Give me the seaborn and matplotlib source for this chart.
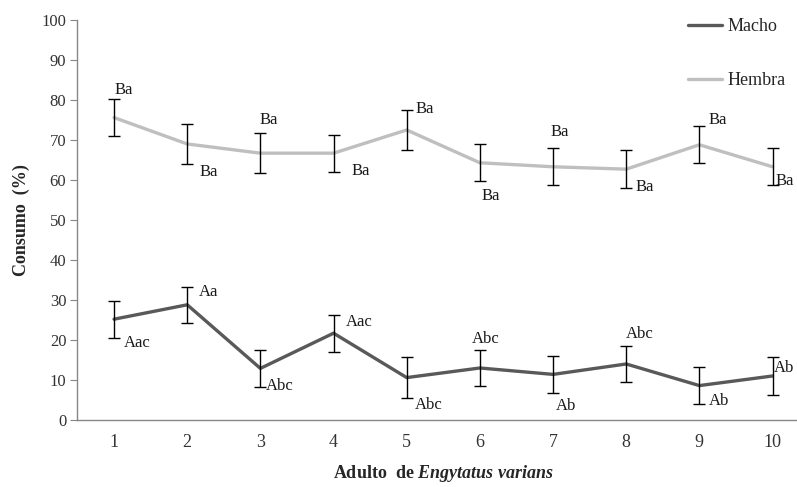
import pandas as pd
import numpy as np
import matplotlib
matplotlib.use("Agg")
import matplotlib.pyplot as plt
import seaborn as sns
from matplotlib.lines import Line2D

# --- data ---
adults = [1, 2, 3, 4, 5, 6, 7, 8, 9, 10]
macho = [25.2, 28.8, 12.9, 21.7, 10.6, 13.0, 11.4, 14.0, 8.6, 11.0]
macho_err = [4.6, 4.5, 4.6, 4.6, 5.1, 4.5, 4.6, 4.5, 4.6, 4.7]
hembra = [75.6, 69.0, 66.7, 66.7, 72.5, 64.3, 63.3, 62.7, 68.8, 63.3]
hembra_err = [4.7, 5.0, 5.0, 4.6, 5.1, 4.6, 4.6, 4.7, 4.6, 4.6]
macho_letters = ["Aac", "Aa", "Abc", "Aac", "Abc", "Abc", "Ab", "Abc", "Ab", "Ab"]
hembra_letters = ["Ba"] * 10

# label offsets (pixels) relative to each point
macho_off = [(10, -24), (12, 13), (5, -18), (12, 11), (8, -27),
             (-8, 29), (3, -32), (0, 30), (9, -15), (1, 8)]
hembra_off = [(0, 28), (12, -28), (-1, 33), (18, -18), (9, 21),
              (2, -33), (-3, 35), (9, -18), (9, 25), (3, -14)]

df = pd.DataFrame({
    "Adulto": adults * 2,
    "Consumo": macho + hembra,
    "Sexo": ["Macho"] * 10 + ["Hembra"] * 10,
})

sns.set_style("white")
plt.rcParams["font.family"] = ["Liberation Serif", "DejaVu Serif"]
plt.rcParams["mathtext.fontset"] = "custom"
plt.rcParams["mathtext.it"] = "Liberation Serif:bold:italic"
plt.rcParams["mathtext.rm"] = "Liberation Serif:bold"

fig = plt.figure(figsize=(7.97, 4.87), dpi=100)
ax = fig.add_axes([0.0972, 0.1376, 0.918, 0.8214])

palette = {"Macho": "#595959", "Hembra": "#BFBFBF"}
sns.lineplot(data=df, x="Adulto", y="Consumo", hue="Sexo", palette=palette,
             linewidth=2.4, ax=ax, legend=False, zorder=2)

for vals, errs in [(macho, macho_err), (hembra, hembra_err)]:
    ax.errorbar(adults, vals, yerr=errs, fmt="none", ecolor="black",
                elinewidth=1.0, capsize=4, capthick=1.0, zorder=3)

for vals, letters, offs in [(macho, macho_letters, macho_off),
                            (hembra, hembra_letters, hembra_off)]:
    for x, y, t, (dx, dy) in zip(adults, vals, letters, offs):
        ax.annotate(t, (x, y), xytext=(dx, dy), textcoords="offset pixels",
                    ha="left", va="center", fontsize=12, color="#1a1a1a")

ax.set_xlim(0.5, 10.5)
ax.set_ylim(0, 100)
ax.set_xticks(adults)
ax.set_yticks(range(0, 101, 10))
ax.tick_params(axis="y", direction="out", length=5, width=0.8, color="#868686",
               labelsize=12, labelcolor="#333333", pad=3, left=True)
ax.tick_params(axis="x", length=0, labelsize=13, labelcolor="#333333", pad=10)

for s in ["top", "right"]:
    ax.spines[s].set_visible(False)
for s in ["left", "bottom"]:
    ax.spines[s].set_color("#868686")
    ax.spines[s].set_linewidth(1.0)

ax.set_ylabel("Consumo  (%)", fontsize=13, fontweight="bold", labelpad=8)
ax.set_xlabel(r"Adulto  de $\it{Engytatus\ varians}$", fontsize=13,
              fontweight="bold", labelpad=9)

# legend
handles = [Line2D([], [], color=palette["Macho"], lw=2.4),
           Line2D([], [], color=palette["Hembra"], lw=2.4)]
fig.legend(handles, ["Macho", "Hembra"], loc="upper left",
           bbox_to_anchor=(0.863, 0.963), frameon=False, fontsize=13,
           handlelength=1.9, handletextpad=0.3, labelspacing=2.05,
           borderpad=0, borderaxespad=0)

fig.savefig("out.png", dpi=100)
